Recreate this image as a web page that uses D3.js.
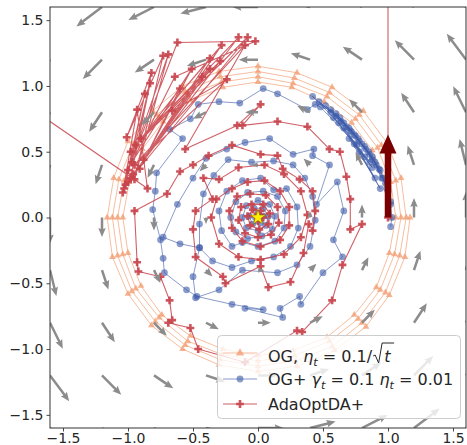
<!DOCTYPE html>
<html>
<head>
<meta charset="utf-8">
<script src="https://cdn.jsdelivr.net/npm/d3@7"></script>
<style>
body { margin: 0; background: #fff; }
svg { font-family: "DejaVu Sans", sans-serif; }
</style>
</head>
<body>
<svg id="chart" width="467" height="445"></svg>
<script>
// ---- data ----
const xTicks = [-1.5, -1.0, -0.5, 0.0, 0.5, 1.0, 1.5];
const yTicks = [-1.5, -1.0, -0.5, 0.0, 0.5, 1.0, 1.5];

// quiver grid and field components (u, v) per row of gridY
const gridX = [-1.6, -1.2, -0.8, -0.4, 0, 0.4, 0.8, 1.2, 1.6];
const gridY = [-1.6, -1.2, -0.8, -0.4, 0, 0.4, 0.8, 1.2, 1.6];
const fieldU = [
  [1.6, 1.6, 1.6, 1.6, 1.6, 1.6, 1.6, 1.6, 1.6],
  [1.2, 1.2, 1.2, 1.2, 1.2, 1.2, 1.2, 1.2, 1.2],
  [0.8, 0.8, 0.8, 0.8, 0.8, 0.8, 0.8, 0.8, 0.8],
  [0.4, 0.4, 0.4, 0.4, 0.4, 0.4, 0.4, 0.4, 0.4],
  [0, 0, 0, 0, 0, 0, 0, 0, 0],
  [-0.4, -0.4, -0.4, -0.4, -0.4, -0.4, -0.4, -0.4, -0.4],
  [-0.8, -0.8, -0.8, -0.8, -0.8, -0.8, -0.8, -0.8, -0.8],
  [-1.2, -1.2, -1.2, -1.2, -1.2, -1.2, -1.2, -1.2, -1.2],
  [-1.6, -1.6, -1.6, -1.6, -1.6, -1.6, -1.6, -1.6, -1.6]
];
const fieldV = [
  [-1.6, -1.2, -0.8, -0.4, 0, 0.4, 0.8, 1.2, 1.6],
  [-1.6, -1.2, -0.8, -0.4, 0, 0.4, 0.8, 1.2, 1.6],
  [-1.6, -1.2, -0.8, -0.4, 0, 0.4, 0.8, 1.2, 1.6],
  [-1.6, -1.2, -0.8, -0.4, 0, 0.4, 0.8, 1.2, 1.6],
  [-1.6, -1.2, -0.8, -0.4, 0, 0.4, 0.8, 1.2, 1.6],
  [-1.6, -1.2, -0.8, -0.4, 0, 0.4, 0.8, 1.2, 1.6],
  [-1.6, -1.2, -0.8, -0.4, 0, 0.4, 0.8, 1.2, 1.6],
  [-1.6, -1.2, -0.8, -0.4, 0, 0.4, 0.8, 1.2, 1.6],
  [-1.6, -1.2, -0.8, -0.4, 0, 0.4, 0.8, 1.2, 1.6]
];

// OG, eta_t = 0.1/sqrt(t)
const ogPath = [
  [1.02,0],[0.99,0.26],[0.88,0.51],[0.72,0.72],[0.51,0.88],[0.26,0.99],
  [0,1.03],[-0.27,0.99],[-0.52,0.89],[-0.73,0.73],[-0.89,0.52],[-0.99,0.27],
  [-1.04,0],[-1.0,-0.27],[-0.9,-0.52],[-0.74,-0.74],[-0.52,-0.9],[-0.27,-1.0],
  [0,-1.05],[0.27,-1.01],[0.53,-0.91],[0.74,-0.74],[0.91,-0.53],[1.01,-0.27],
  [1.06,0],[1.02,0.27],[0.92,0.53],[0.75,0.75],[0.53,0.92],[0.27,1.02],
  [0,1.07],[-0.28,1.03],[-0.54,0.93],[-0.76,0.76],[-0.93,0.54],[-1.03,0.28],
  [-1.08,0],[-1.04,-0.28],[-0.94,-0.54],[-0.76,-0.76],[-0.54,-0.94],[-0.28,-1.04],
  [0,-1.09],[0.28,-1.05],[0.55,-0.94],[0.77,-0.77],[0.94,-0.55],[1.05,-0.28],
  [1.1,0],[1.06,0.28],[0.95,0.55],[0.78,0.78],[0.55,0.95],[0.28,1.06],
  [0,1.11],[-0.29,1.07],[-0.56,0.96],[-0.78,0.78],[-0.96,0.56],[-1.07,0.29],
  [-1.12,0],[-1.08,-0.29],[-0.97,-0.56],[-0.79,-0.79],[-0.56,-0.97],[-0.29,-1.08],
  [0,-1.13],[0.29,-1.09],[0.57,-0.98],[0.8,-0.8],[0.98,-0.57],[1.09,-0.29],
  [1.14,0],[1.1,0.3],[0.99,0.57],[0.81,0.81],[0.57,0.99],[0.3,1.1],
  [0,1.15],[-0.3,1.11],[-0.58,1.0],[-0.81,0.81],[-1.0,0.58],[-1.11,0.3],
  [-1.16,0],[-1.12,-0.3],[-1.0,-0.58],[-0.82,-0.82],[-0.58,-1.0],[-0.3,-1.12],
  [0,-1.17],[0.3,-1.13],[0.59,-1.01],[0.83,-0.83],[1.01,-0.59],[1.13,-0.3],[1.17,0]
];

// OG+ gamma_t = 0.1, eta_t = 0.01
const ogPlusPath = [
  [1.02,-0.07],[1.03,0.0],[1.02,0.1],[0.99,0.22],[1.02,0.12],[0.96,0.3],[1.0,0.2],[0.94,0.36],
  [0.98,0.26],[0.9,0.42],[0.95,0.3],[0.88,0.46],[0.93,0.37],[0.85,0.5],[0.91,0.4],[0.82,0.54],
  [0.88,0.44],[0.78,0.58],[0.86,0.48],[0.75,0.62],[0.83,0.52],[0.72,0.65],[0.8,0.56],[0.7,0.68],
  [0.77,0.6],[0.66,0.72],[0.74,0.63],[0.63,0.76],[0.71,0.66],[0.6,0.79],[0.68,0.69],[0.56,0.82],
  [0.64,0.73],[0.52,0.85],[0.6,0.77],[0.47,0.88],[0.56,0.8],[0.42,0.92],[0.62,0.72],[0.88,0.38],
  [0.7,0.6],[0.9,0.3],[0.78,0.5],[0.94,0.22],[0.74,0.56],[0.86,0.42],[0.66,0.68],[0.82,0.46],
  [0.58,0.76],[0.76,0.55],[0.48,0.84],[0.44,0.86],
  [0.38,0.82],[0.15,0.94],[0.04,0.98],[-0.14,0.87],[-0.3,0.88],[-0.46,0.86],[-0.52,0.75],
  [-0.68,0.67],[-0.58,0.6],[-0.78,0.34],[-0.79,0.2],[-0.81,0.06],[-0.75,-0.17],[-0.73,-0.31],
  [-0.72,-0.42],[-0.55,-0.55],[-0.47,-0.6],[-0.2,-0.66],[0.04,-0.7],[-0.1,-0.69],[0.19,-0.76],
  [0.17,-0.69],[0.32,-0.6],[0.33,-0.66],[0.5,-0.42],[0.65,-0.3],[0.58,-0.17],[0.66,0.05],
  [0.61,0.27],[0.45,0.1],[0.55,0.4],[0.42,0.47],[0.43,0.52],[0.27,0.48],[0.09,0.6],[-0.1,0.57],
  [-0.24,0.52],[-0.4,0.45],[-0.5,0.3],[-0.62,0.1],[-0.73,-0.15],[-0.6,-0.2],[-0.45,-0.23],
  [-0.5,-0.45],[-0.48,-0.61],[-0.3,-0.55],[-0.12,-0.4],[0.15,-0.42],[0.3,-0.36],[0.4,-0.22],
  [0.44,-0.02],[0.42,0.16],[0.36,0.3],[0.27,0.4],[0.12,0.43],[-0.05,0.42],[-0.23,0.44],
  [-0.34,0.32],[-0.42,0.18],[-0.45,-0.05],[-0.45,-0.23],[-0.35,-0.33],[-0.2,-0.38],
  [-0.05,-0.33],[0.12,-0.3],[0.25,-0.22],[0.31,-0.08],[0.3,0.08],[0.22,0.22],[0.12,0.21],
  [0.02,0.3],[-0.12,0.28],[-0.24,0.2],[-0.3,0.05],[-0.28,-0.1],[-0.2,-0.22],[-0.12,-0.19],
  [0.0,-0.22],[0.13,-0.18],[0.2,-0.08],[0.21,0.05],[0.15,0.16],[0.04,0.2],[-0.08,0.19],
  [-0.17,0.12],[-0.21,0.0],[-0.17,-0.11],[-0.08,-0.16],[0.03,-0.14],[0.11,-0.09],[0.13,0.01],
  [0.09,0.1],[0.0,0.13],[-0.09,0.09],[-0.12,0.0],[-0.09,-0.08],[0.0,-0.1],[0.06,-0.06],
  [0.08,0.01],[0.04,0.07],[-0.03,0.07],[-0.07,0.01],[-0.04,-0.05],[0.02,-0.04],[0.04,0.01],
  [0.0,0.03],[-0.02,0.0]
];

// AdaOptDA+ (second and third points lie off the axes)
const adaPath = [
  [1.0,0.0],[1.0,8.0],[-4.0,2.36],[-0.85,0.22],
  [-0.93,0.82],[-1.04,0.19],[-0.87,0.94],[-1.02,0.25],[-0.83,1.02],[-0.98,0.3],[-0.82,1.1],
  [-1.01,0.61],[-0.73,1.23],[-0.95,0.29],[-0.69,1.24],[-1.0,0.36],[-0.62,1.33],[-0.02,1.34],
  [-0.64,1.07],[-0.97,0.42],[-0.51,1.13],[-0.91,0.37],[-0.6,0.98],[-0.98,0.5],[-0.37,1.21],
  [-0.88,0.44],[-0.43,1.07],[-1.03,0.22],[-0.28,1.31],[-0.94,0.55],[-0.29,1.19],[-0.96,0.33],
  [-0.15,1.37],[-0.9,0.6],[-0.37,1.13],[-1.0,0.27],[-0.08,1.37],[-0.66,0.81],[-0.24,1.05],
  [-0.95,0.4],[-0.1,1.31],[-0.56,0.52],
  [-0.16,0.7],[0.02,0.86],[-0.12,0.7],[0.15,0.73],[0.38,0.69],[0.55,0.52],[0.63,0.5],[0.68,0.31],
  [0.71,0.14],[0.71,-0.09],[0.8,-0.05],[0.65,-0.36],[0.57,-0.63],[0.34,-0.87],[0.3,-0.86],
  [-0.1,-1.1],[-0.46,-1.0],[-0.52,-0.84],[-0.69,-0.8],[-0.66,-0.78],[-0.68,-0.63],[-0.75,-0.45],
  [-0.92,-0.41],[-0.93,-0.34],[-0.95,0.05],[-0.7,0.18],[-0.6,0.35],
  [-0.5,0.4],[-0.38,0.47],[-0.2,0.55],[0.02,0.48],[0.15,0.47],[0.19,0.37],[0.32,0.29],[0.42,0.2],
  [0.44,0.05],[0.42,-0.1],[0.39,-0.05],[0.35,-0.27],[0.25,-0.49],[0.08,-0.53],[0.02,-0.37],
  [-0.25,-0.5],[-0.27,-0.45],[-0.48,-0.3],[-0.5,-0.09],[-0.48,0.05],[-0.35,0.14],[-0.42,0.3],
  [-0.3,0.29],[-0.15,0.38],[0.05,0.4],[0.2,0.33],[0.33,0.2],[0.38,0.02],[0.33,-0.15],[0.2,-0.28],
  [0.02,-0.32],[-0.15,-0.3],[-0.3,-0.2],[-0.36,0.0],[-0.32,0.14],
  [-0.2,0.22],[-0.08,0.27],[0.05,0.28],[0.17,0.2],[0.24,0.08],[0.24,-0.06],[0.17,-0.17],
  [0.02,-0.22],[-0.12,-0.18],[-0.2,-0.08],[-0.22,0.05],[-0.16,0.16],
  [-0.06,0.18],[0.06,0.17],[0.15,0.08],[0.16,-0.04],[0.1,-0.13],[0.0,-0.15],[-0.1,-0.12],
  [-0.15,-0.02],[-0.13,0.08],
  [-0.05,0.1],[0.04,0.1],[0.09,0.03],[0.08,-0.05],[0.01,-0.09],[-0.06,-0.06],[-0.08,0.01],
  [-0.04,0.06],[0.02,0.05],[0.04,0.0],[0.0,-0.03],[-0.02,0.01]
];

// big arrow at the start point: x, y, u, v
const startArrow = [1.0, 0.0, 0.0, 0.63];
const equilibrium = [0, 0];

const colors = { og: '#f29a6c', ogPlus: '#3b58a8', ada: '#c8434b', arrow: '#7a0000', field: '#8c8c8c' };

// ---- layout ----
const svg = d3.select('#chart');
const plotL = 50, plotR = 466, plotT = 7, plotB = 428;

const x = d3.scaleLinear().domain([-1.6, 1.6]).range([plotL, plotR]);
const y = d3.scaleLinear().domain([-1.6, 1.6]).range([plotB, plotT]);

svg.append('defs').append('clipPath').attr('id', 'plotClip')
  .append('rect').attr('x', plotL).attr('y', plotT)
  .attr('width', plotR - plotL).attr('height', plotB - plotT);

const plot = svg.append('g').attr('clip-path', 'url(#plotClip)');

const line = d3.line().x(d => x(d[0])).y(d => y(d[1]));

const triMarker = d3.symbol(d3.symbolTriangle, 20)();
const circMarker = d3.symbol(d3.symbolCircle, 36)();
const plusMarker = 'M-1.3,-3.9h2.6v2.6h2.6v2.6h-2.6v2.6h-2.6v-2.6h-2.6v-2.6h2.6z';

const drawSeries = (pts, color, lw, lineOp, marker, markOp) => {
  const g = plot.append('g');
  g.append('path')
    .attr('d', line(pts))
    .attr('fill', 'none')
    .attr('stroke', color)
    .attr('stroke-width', lw)
    .attr('stroke-opacity', lineOp)
    .attr('stroke-linejoin', 'round');
  g.selectAll('path.mk')
    .data(pts)
    .enter()
    .append('path')
    .attr('class', 'mk')
    .attr('d', marker)
    .attr('transform', d => `translate(${x(d[0])},${y(d[1])})`)
    .attr('fill', color)
    .attr('fill-opacity', markOp);
}

drawSeries(ogPath, colors.og, 1, 0.65, triMarker, 0.75);
drawSeries(ogPlusPath, colors.ogPlus, 1, 0.6, circMarker, 0.6);
drawSeries(adaPath, colors.ada, 1.1, 0.85, plusMarker, 0.9);

// ---- quiver field ----
const qScale = 16;   // px per unit of field magnitude
const shaftW = 2.5, headW = 7.5, headL = 9, headAxL = 8;

const arrowPoly = (L) => {
  let s = 1;
  if (L < headL) { s = L / headL; L = headL; }
  const p = [
    [0, -shaftW / 2], [L - headAxL, -shaftW / 2], [L - headL, -headW / 2], [L, 0],
    [L - headL, headW / 2], [L - headAxL, shaftW / 2], [0, shaftW / 2]
  ];
  return p.map(q => [q[0] * s, q[1] * s]);
}

const quiver = [];
gridY.forEach((gy, i) => gridX.forEach((gx, j) => {
  quiver.push({ gx, gy, u: fieldU[i][j], v: fieldV[i][j] });
}));

plot.append('g')
  .selectAll('polygon')
  .data(quiver.filter(d => d.u !== 0 || d.v !== 0))
  .enter()
  .append('polygon')
  .attr('points', d => {
    const dx = x(d.gx + d.u) - x(d.gx), dy = y(d.gy + d.v) - y(d.gy);
    const L = Math.hypot(dx, dy) * qScale / (x(1) - x(0));
    return arrowPoly(L).map(q => q.join(',')).join(' ');
  })
  .attr('transform', d => {
    const ang = Math.atan2(y(d.gy + d.v) - y(d.gy), x(d.gx + d.u) - x(d.gx)) * 180 / Math.PI;
    return `translate(${x(d.gx)},${y(d.gy)}) rotate(${ang})`;
  })
  .attr('fill', colors.field);

// ---- big starting arrow ----
{
  const x0 = x(startArrow[0]), y0 = y(startArrow[1]);
  const x1 = x(startArrow[0] + startArrow[2]), y1 = y(startArrow[1] + startArrow[3]);
  const L = Math.hypot(x1 - x0, y1 - y0);
  const ang = Math.atan2(y1 - y0, x1 - x0) * 180 / Math.PI;
  const sw = 6.5, hw = 17, hl = 19;
  const pts = [[0, -sw / 2], [L - hl, -sw / 2], [L - hl, -hw / 2], [L, 0], [L - hl, hw / 2], [L - hl, sw / 2], [0, sw / 2]];
  plot.append('polygon')
    .attr('points', pts.map(q => q.join(',')).join(' '))
    .attr('transform', `translate(${x0},${y0}) rotate(${ang})`)
    .attr('fill', colors.arrow);
}

// equilibrium star
plot.append('path')
  .attr('d', d3.symbol(d3.symbolStar, 70)())
  .attr('transform', `translate(${x(equilibrium[0])},${y(equilibrium[1])})`)
  .attr('fill', '#ffee00')
  .attr('stroke', '#6b6b00')
  .attr('stroke-width', 0.5);

// ---- axes ----
const fmt = d3.format('.1f');
const xAxis = svg.append('g')
  .attr('transform', `translate(0,${plotB})`)
  .call(d3.axisBottom(x).tickValues(xTicks).tickSize(3.5).tickPadding(2).tickFormat(fmt));
const yAxis = svg.append('g')
  .attr('transform', `translate(${plotL},0)`)
  .call(d3.axisLeft(y).tickValues(yTicks).tickSize(3.5).tickPadding(3).tickFormat(fmt));

[xAxis, yAxis].forEach(a => {
  a.select('.domain').remove();
  a.selectAll('.tick line').attr('stroke', '#333').attr('stroke-width', 0.9);
  a.selectAll('.tick text').attr('fill', '#262626').style('font-size', '14px').style('font-family', '"DejaVu Sans", sans-serif');
});

svg.append('rect')
  .attr('x', plotL).attr('y', plotT)
  .attr('width', plotR - plotL).attr('height', plotB - plotT)
  .attr('fill', 'none').attr('stroke', '#333').attr('stroke-width', 1);

// ---- legend ----
const leg = svg.append('g');
leg.append('rect')
  .attr('x', 217.5).attr('y', 335.5).attr('width', 243).attr('height', 83).attr('rx', 4)
  .attr('fill', '#fff').attr('fill-opacity', 0.8)
  .attr('stroke', '#cccccc').attr('stroke-width', 1);

const legendRows = [
  { c: colors.og, m: d3.symbol(d3.symbolTriangle, 30)(), ly: 353, lo: 0.65, mo: 0.75 },
  { c: colors.ogPlus, m: circMarker, ly: 379, lo: 0.6, mo: 0.6 },
  { c: colors.ada, m: plusMarker, ly: 404, lo: 0.85, mo: 0.9 }
];
legendRows.forEach(r => {
  leg.append('line').attr('x1', 223).attr('x2', 257).attr('y1', r.ly).attr('y2', r.ly)
    .attr('stroke', r.c).attr('stroke-width', 1.1).attr('stroke-opacity', r.lo);
  leg.append('path').attr('d', r.m).attr('transform', `translate(240,${r.ly})`)
    .attr('fill', r.c).attr('fill-opacity', r.mo);
});

const mathText = (tx, ty, parts) => {
  const t = leg.append('text').attr('x', tx).attr('y', ty)
    .attr('fill', '#262626').style('font-size', '16px');
  parts.forEach(p => {
    const s = t.append('tspan').text(p.s);
    if (p.it) s.style('font-style', 'italic');
    if (p.sub) s.style('font-size', '11.2px').attr('dy', 3.5);
    if (p.up) s.attr('dy', -3.5);
  });
  return t;
}

const row1 = mathText(268, 362, [
  { s: 'OG, ' }, { s: 'η', it: true }, { s: 't', it: true, sub: true }, { s: ' = 0.1/', up: true }
]);
{
  const xe = 268 + row1.node().getComputedTextLength();
  const by = 362;
  leg.append('path')
    .attr('d', `M${xe + 1},${by - 6} L${xe + 3},${by - 7} L${xe + 6.5},${by + 1} L${xe + 10},${by - 19} L${xe + 22},${by - 19}`)
    .attr('fill', 'none').attr('stroke', '#262626').attr('stroke-width', 1);
  leg.append('text').attr('x', xe + 12).attr('y', by)
    .attr('fill', '#262626').style('font-size', '16px').style('font-style', 'italic').text('t');
}

mathText(268, 385, [
  { s: 'OG+ ' }, { s: 'γ', it: true }, { s: 't', it: true, sub: true }, { s: ' = 0.1 ', up: true },
  { s: 'η', it: true }, { s: 't', it: true, sub: true }, { s: ' = 0.01', up: true }
]);
mathText(268, 409.5, [{ s: 'AdaOptDA+' }]);
</script>
</body>
</html>
